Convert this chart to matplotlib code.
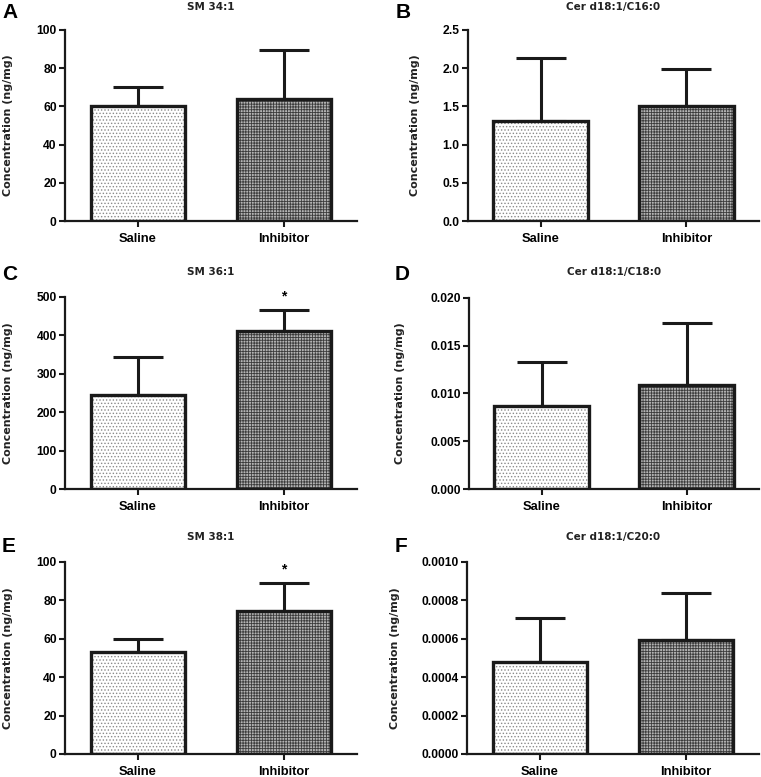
import matplotlib
matplotlib.use("Agg")
import matplotlib.pyplot as plt

plt.rcParams['font.family'] = ['Liberation Sans', 'DejaVu Sans']
plt.rcParams['font.weight'] = 'bold'
plt.rcParams['hatch.linewidth'] = 0.6

groups = ['Saline', 'Inhibitor']
letters = ['A', 'B', 'C', 'D', 'E', 'F']
titles = ['SM 34:1', 'Cer d18:1/C16:0', 'SM 36:1', 'Cer d18:1/C18:0',
          'SM 38:1', 'Cer d18:1/C20:0']
means = [[60, 63.7], [1.31, 1.51], [245, 411], [0.0087, 0.0109],
         [53.1, 74.3], [0.000481, 0.000594]]
err_tops = [[70, 89.5], [2.14, 1.985], [343, 465], [0.01333, 0.01735],
            [59.9, 88.9], [0.00071, 0.000839]]
ylims = [100, 2.5, 500, 0.020, 100, 0.0010]
yticks = [[0, 20, 40, 60, 80, 100],
          [0.0, 0.5, 1.0, 1.5, 2.0, 2.5],
          [0, 100, 200, 300, 400, 500],
          [0.000, 0.005, 0.010, 0.015, 0.020],
          [0, 20, 40, 60, 80, 100],
          [0.0000, 0.0002, 0.0004, 0.0006, 0.0008, 0.0010]]
tick_fmt = ['{:.0f}', '{:.1f}', '{:.0f}', '{:.3f}', '{:.0f}', '{:.4f}']
significant = [[False, False], [False, False], [False, True],
               [False, False], [False, True], [False, False]]

W, H = 761, 777
fig = plt.figure(figsize=(W / 100, H / 100), dpi=100)

# axes boxes in pixels: left, right, top, bottom
boxes = [(65, 357, 30, 221), (468, 759, 30, 221),
         (65, 357, 297, 489), (469, 759, 298, 489),
         (65, 357, 562, 754), (467, 759, 562, 754)]
ylab_x = [8, 415, 8, 400, 8, 395]
letter_x = [2, 396, 2, 395, 2, 395]
letter_y = [12, 12, 274, 274, 546, 546]
title_y = [7, 7, 272, 272, 537, 537]

hatches = ['.....', '++++++']
hatch_cols = ['#8a8a8a', '#3c3c3c']
faces = ['white', '#b4b4b4']

for i in range(6):
    l, r, t, b = boxes[i]
    ax = fig.add_axes([l / W, 1 - b / H, (r - l) / W, (b - t) / H])
    x = range(len(groups))
    for j in x:
        ax.bar(j, means[i][j], width=0.65, color=faces[j], hatch=hatches[j],
               edgecolor=hatch_cols[j], linewidth=0, zorder=2)
        ax.bar(j, means[i][j], width=0.65, color='none', edgecolor='#1a1a1a',
               linewidth=2.4, zorder=3)
        ax.errorbar(j, means[i][j], yerr=[[0], [err_tops[i][j] - means[i][j]]],
                    fmt='none', ecolor='#1a1a1a', elinewidth=2.2, capsize=18,
                    capthick=2.2, zorder=1)
        if significant[i][j]:
            ax.annotate('*', (j, err_tops[i][j]), xytext=(0, 5),
                        textcoords='offset points', ha='center', va='bottom',
                        fontsize=10, fontweight='bold')
    ax.set_xlim(-0.5, 1.5)
    ax.set_ylim(0, ylims[i])
    ax.set_xticks(list(x))
    ax.set_xticklabels(groups, fontsize=9.3, fontweight='bold')
    ax.set_yticks(yticks[i])
    ax.set_yticklabels([tick_fmt[i].format(v) for v in yticks[i]],
                       fontsize=8.7, fontweight='bold')
    ax.tick_params(axis='both', direction='out', length=4, width=1.5,
                   color='#1a1a1a', pad=2)
    ax.tick_params(axis='x', pad=4.5)
    ax.spines['top'].set_visible(False)
    ax.spines['right'].set_visible(False)
    for s in ['left', 'bottom']:
        ax.spines[s].set_linewidth(1.6)
        ax.spines[s].set_color('#1a1a1a')

    fig.text(ylab_x[i] / W, 1 - (t + b) / 2 / H, 'Concentration (ng/mg)',
             rotation=90, ha='center', va='center', fontsize=8,
             fontweight='bold', family='DejaVu Sans', color='#222222')
    fig.text((l + r) / 2 / W, 1 - title_y[i] / H, titles[i], ha='center',
             va='center', fontsize=7.5, fontweight='bold',
             family='DejaVu Sans', color='#222222')
    fig.text(letter_x[i] / W, 1 - letter_y[i] / H, letters[i], ha='left',
             va='center', fontsize=15, fontweight='bold')

fig.savefig('out.png', dpi=100)
